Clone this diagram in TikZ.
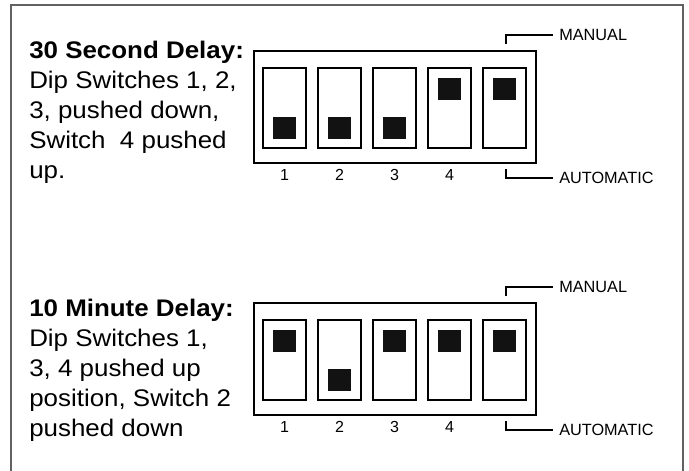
\documentclass[tikz,border=0pt]{standalone}
\usepackage{fontspec}
\setmainfont{Liberation Sans}
\newfontfamily\captionfont[FakeStretch=1.08]{Liberation Sans}
\newfontfamily\tagfont{Liberation Sans}

\tikzset{
  frame/.style={draw=black!62, line width=1.6pt},
  housing/.style={draw=black, line width=1pt},
  slot/.style={draw=black, line width=1pt},
  knob/.style={fill=black!93},
  leader/.style={draw=black, line width=2pt},
  body/.style={font=\captionfont\fontsize{18}{20}\selectfont, anchor=base west, inner sep=0pt},
  heading/.style={body, font=\captionfont\bfseries\fontsize{18}{20}\selectfont},
  num/.style={font=\tagfont\fontsize{12}{14}\selectfont, anchor=base, inner sep=0pt},
  tag/.style={font=\tagfont\fontsize{12.2}{14}\selectfont, anchor=west, inner sep=0pt, inner xsep=4.5pt},
}

% One DIP switch housing: #1 name prefix, #2 vertical offset,
% #3 list of slot/knob-top pairs for the five slots
\newcommand\dipblock[3]{%
  \begin{scope}[shift={(0,#2)}]
    \draw[housing] (254,51) rectangle (536,163);
    \foreach \i/\ky in {#3} {
      \pgfmathsetmacro\xl{263+55*(\i-1)}
      \draw[slot] (\xl,68) rectangle ++(43,80);
      \fill[knob] (\xl+10,\ky) rectangle ++(23,22);
    }
    \foreach \i in {1,...,4} {
      \pgfmathsetmacro\xc{263+55*(\i-1)+21.5}
      \node[num] (#1n\i) at (\xc,180) {\i};
    }
    \coordinate (#1m) at (506,44);
    \node[tag] (#1man) at (553,35) {MANUAL};
    \draw[leader] (#1m) |- (#1man.west);
    \coordinate (#1a) at (506,169);
    \node[tag] (#1aut) at (553,178) {AUTOMATIC};
    \draw[leader] (#1a) |- (#1aut.west);
  \end{scope}}

\begin{document}
\begin{tikzpicture}[x=0.75pt, y=-0.75pt]
  \useasboundingbox (0,0) rectangle (689,471);
  \draw[frame] (11,471) -- (11,5) -- (683,5) -- (683,471);

  % 30 second setting
  \node[heading] (ta) at (29,58) {30 Second Delay:};
  \node[body] (tb) at (29,88) {Dip Switches 1, 2,};
  \node[body] (tc) at (29,118) {3, pushed down,};
  \node[body] (td) at (29,148) {Switch\ \ 4 pushed};
  \node[body] (te) at (29,178) {up.};
  \dipblock{s}{0}{1/117,2/117,3/117,4/78,5/78}

  % 10 minute setting
  \node[heading] (ua) at (29,316) {10 Minute Delay:};
  \node[body] (ub) at (29,346) {Dip Switches 1,};
  \node[body] (uc) at (29,376) {3, 4 pushed up};
  \node[body] (ud) at (29,406) {position, Switch 2};
  \node[body] (ue) at (29,436) {pushed down};
  \dipblock{m}{252}{1/78,2/117,3/78,4/78,5/78}
\end{tikzpicture}
\end{document}
